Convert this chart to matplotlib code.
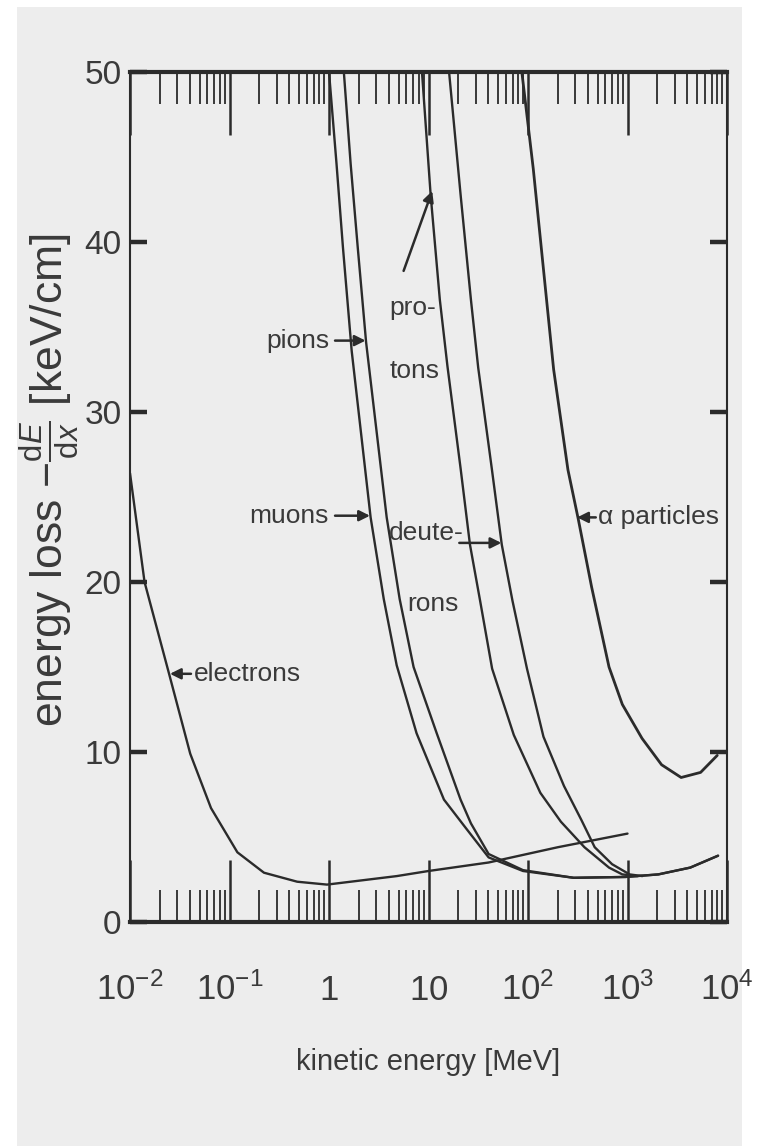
import numpy as np
import matplotlib
matplotlib.use("Agg")
import matplotlib.pyplot as plt
from matplotlib.ticker import FixedLocator, FixedFormatter, LogLocator, NullFormatter
from matplotlib.patches import Rectangle

# ---------------- data (kinetic energy in MeV, energy loss in keV/cm) ----------------
electron_E = [0.0100, 0.0140, 0.0247, 0.0403, 0.0652, 0.120, 0.222, 0.479, 0.955, 4.79, 10.0, 40.2, 200, 1000]
electron_dEdx = [26.4, 20.0, 14.6, 9.9, 6.7, 4.1, 2.9, 2.37, 2.2, 2.7, 3.0, 3.5, 4.4, 5.2]

muon_E = [1.00, 1.19, 1.38, 1.69, 2.62, 3.55, 4.79, 7.59, 14.3, 23.2, 40.2, 89.1, 288, 955, 2040, 4270, 8130]
muon_dEdx = [50.0, 44.6, 39.7, 33.6, 23.8, 19.0, 15.1, 11.1, 7.2, 5.6, 3.8, 3.0, 2.6, 2.65, 2.8, 3.2, 3.9]

pion_E = [1.41, 1.65, 1.95, 2.36, 3.80, 5.13, 7.08, 12.1, 21.0, 26.7, 40.2, 89.1, 288, 955, 2040, 4270, 8130]
pion_dEdx = [50.0, 44.6, 39.6, 34.1, 23.8, 19.0, 15.0, 11.1, 7.2, 5.8, 4.0, 3.05, 2.6, 2.65, 2.8, 3.2, 3.9]

proton_E = [8.6, 10.5, 13.0, 15.5, 21.0, 26.1, 33.0, 43.6, 72.0, 133, 214, 369, 652, 887, 1260]
proton_dEdx = [50.0, 42.8, 36.6, 32.7, 26.7, 22.2, 18.9, 14.9, 11.0, 7.6, 5.9, 4.4, 3.2, 2.8, 2.7]

deuteron_E = [16.1, 21.0, 26.7, 31.6, 43.2, 54.5, 69.8, 97.7, 143, 230, 344, 468, 700, 1050, 1410]
deuteron_dEdx = [50.0, 42.8, 36.6, 32.6, 26.7, 22.2, 18.9, 14.9, 10.9, 8.0, 6.0, 4.4, 3.4, 2.8, 2.7]

alpha_E = [86.7, 113, 143, 181, 252, 320, 436, 652, 887, 1400, 2200, 3460, 5430, 7980]
alpha_dEdx = [50.0, 44.3, 38.4, 32.5, 26.6, 23.7, 19.7, 15.0, 12.8, 10.8, 9.25, 8.5, 8.8, 9.8]

xtick_values = [1e-2, 1e-1, 1, 10, 1e2, 1e3, 1e4]
xtick_labels = [r"$10^{-2}$", r"$10^{-1}$", r"$1$", r"$10$", r"$10^{2}$", r"$10^{3}$", r"$10^{4}$"]
ytick_values = [0, 10, 20, 30, 40, 50]
ytick_labels = ["0", "10", "20", "30", "40", "50"]

# ---------------- style ----------------
FAM = ["Liberation Sans Narrow", "Liberation Sans", "DejaVu Sans"]
plt.rcParams["font.family"] = FAM
plt.rcParams["mathtext.fontset"] = "custom"
plt.rcParams["mathtext.rm"] = "Liberation Sans"
plt.rcParams["mathtext.it"] = "Liberation Sans:italic"
plt.rcParams["mathtext.default"] = "regular"

INK = "#2b2b2b"
TXT = "#3a3a3a"
PAPER = "#ededed"

fig = plt.figure(figsize=(7.59, 11.46), dpi=100, facecolor="white")
fig.add_artist(Rectangle((17 / 759, 0), (742 - 17) / 759, 1 - 7 / 1146,
                         transform=fig.transFigure, facecolor=PAPER, edgecolor="none", zorder=-10))

ax = fig.add_axes([130 / 759, 1 - 922 / 1146, (727 - 130) / 759, (922 - 72) / 1146])
ax.set_facecolor(PAPER)

lw = 1.7
style = dict(color=INK, lw=lw, solid_capstyle="round", solid_joinstyle="round")
ax.plot(electron_E, electron_dEdx, **style)
ax.plot(muon_E, muon_dEdx, **style)
ax.plot(pion_E, pion_dEdx, **style)
ax.plot(proton_E, proton_dEdx, **style)
ax.plot(deuteron_E, deuteron_dEdx, **style)
ax.plot(alpha_E, alpha_dEdx, color=INK, lw=lw + 0.3, solid_capstyle="round", solid_joinstyle="round")

ax.set_xscale("log")
ax.set_xlim(1e-2, 1e4)
ax.set_ylim(0, 50)

ax.xaxis.set_major_locator(FixedLocator(xtick_values))
ax.xaxis.set_major_formatter(FixedFormatter(xtick_labels))
ax.xaxis.set_minor_locator(LogLocator(base=10, subs=np.arange(2, 10), numticks=30))
ax.xaxis.set_minor_formatter(NullFormatter())
ax.yaxis.set_major_locator(FixedLocator(ytick_values))
ax.yaxis.set_major_formatter(FixedFormatter(ytick_labels))

ax.tick_params(axis="x", which="major", direction="in", length=45, width=1.8,
               top=True, bottom=True, color=INK, pad=56, labelsize=25, labelcolor=TXT)
ax.tick_params(axis="x", which="minor", direction="in", length=23, width=1.3,
               top=True, bottom=True, color=INK)
ax.tick_params(axis="y", which="major", direction="in", length=12, width=3.2,
               left=True, right=True, color=INK, pad=6, labelsize=24, labelcolor=TXT)
for lab in ax.get_xticklabels():
    lab.set_verticalalignment("baseline")

for side in ("top", "bottom"):
    ax.spines[side].set_linewidth(3.0)
    ax.spines[side].set_color(INK)
for side in ("left", "right"):
    ax.spines[side].set_linewidth(1.5)
    ax.spines[side].set_color(INK)

ax.set_xlabel("kinetic energy [MeV]", fontsize=21, color=TXT)
ax.xaxis.label.set_verticalalignment("center")
ax.xaxis.set_label_coords(0.5, -0.165)

ax.set_ylabel(r"energy loss $-\frac{\mathrm{d}\mathit{E}}{\mathrm{d}\mathit{x}}$ [keV/cm]",
              fontsize=32, color=TXT, family=["Liberation Sans", "DejaVu Sans"])
ax.yaxis.label.set_verticalalignment("center")
ax.yaxis.set_label_coords(-0.136, 0.52)

# ---------------- curve labels ----------------
LFS = 19
arrow = dict(arrowstyle="-|>", color=INK, lw=1.8, mutation_scale=16, shrinkA=0, shrinkB=0)

ax.text(1.02, 34.2, "pions", ha="right", va="center", fontsize=LFS, color=TXT)
ax.annotate("", xy=(2.33, 34.2), xytext=(1.15, 34.2), arrowprops=arrow)

ax.text(1.0, 23.9, "muons", ha="right", va="center", fontsize=LFS, color=TXT)
ax.annotate("", xy=(2.58, 23.9), xytext=(1.15, 23.9), arrowprops=arrow)

ax.text(0.0435, 14.6, "electrons", ha="left", va="center", fontsize=LFS, color=TXT)
ax.annotate("", xy=(0.0252, 14.6), xytext=(0.041, 14.6), arrowprops=arrow)

ax.text(510, 23.8, "\u03b1 particles", ha="left", va="center", fontsize=LFS, color=TXT)
ax.annotate("", xy=(312, 23.8), xytext=(480, 23.8), arrowprops=arrow)

ax.text(9.55, 22.9, "deute-", ha="center", va="center", fontsize=LFS, color=TXT)
ax.text(11.0, 18.7, "rons", ha="center", va="center", fontsize=LFS, color=TXT)
ax.annotate("", xy=(54.0, 22.3), xytext=(20.4, 22.3), arrowprops=arrow)

ax.text(7.0, 36.1, "pro-", ha="center", va="center", fontsize=LFS, color=TXT)
ax.text(7.2, 32.4, "tons", ha="center", va="center", fontsize=LFS, color=TXT)
ax.annotate("", xy=(10.9, 43.0), xytext=(5.62, 38.3), arrowprops=arrow)

fig.savefig("out.png", dpi=100, facecolor=fig.get_facecolor())
